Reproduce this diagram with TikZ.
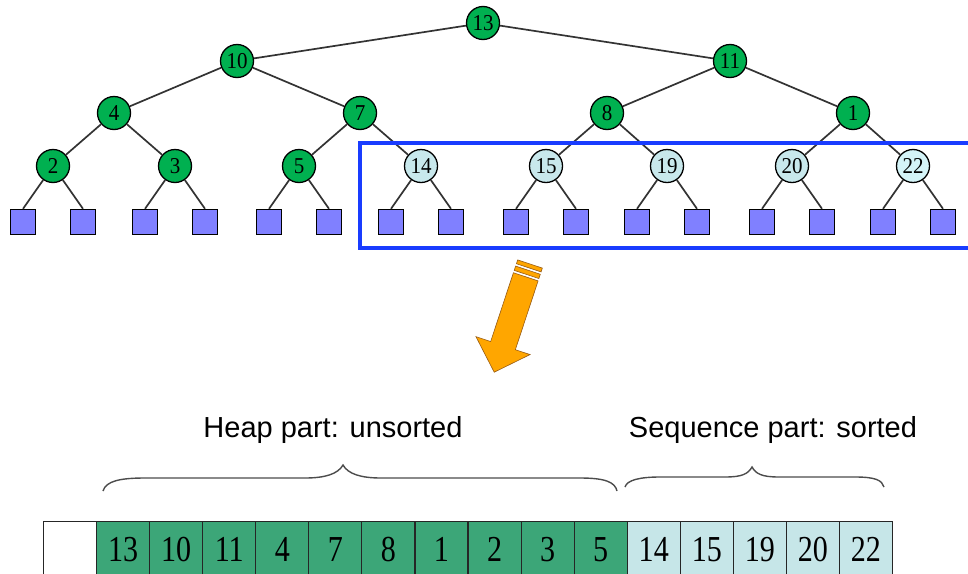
\documentclass[tikz,border=0pt]{standalone}
\usepackage{graphicx}
\usepackage{fontspec}
\setmainfont{Liberation Serif}
\newfontfamily\labfont{Liberation Sans}
\definecolor{ngreen}{RGB}{0,176,80}
\definecolor{nlblue}{RGB}{200,232,236}
\definecolor{leafblue}{RGB}{128,128,255}
\definecolor{agreen}{RGB}{60,166,120}
\definecolor{alblue}{RGB}{198,230,232}
\definecolor{frameblue}{RGB}{25,60,255}
\definecolor{arrorange}{RGB}{255,166,0}
\definecolor{arredge}{RGB}{150,90,20}
\newcommand\cnum[1]{\scalebox{0.97}[1.18]{#1}}
\newcommand\tnum[1]{\scalebox{1}[1.08]{#1}}
\tikzset{
  hnode/.style={circle, draw=black, line width=1.3pt, fill=ngreen, minimum size=33pt, inner sep=0pt, font=\fontsize{21}{21}\selectfont},
  snode/.style={hnode, fill=nlblue},
  leafbox/.style={rectangle, draw=black, line width=1.4pt, fill=leafblue, minimum size=25pt, inner sep=0pt},
  tedge/.style={draw=black!80, line width=1.7pt},
  cellbox/.style={rectangle, draw=black!85, line width=1.1pt, minimum width=53.06pt, minimum height=56pt, inner sep=0pt, anchor=north west, font=\fontsize{31}{31}\selectfont},
  lbl/.style={anchor=base, inner sep=0pt, font=\labfont\fontsize{29}{29}\selectfont},
  bracepath/.style={draw=black!70, line width=1.4pt},
  arrpart/.style={fill=arrorange, draw=arredge, line width=0.6pt, line join=miter},
}
\begin{document}
\begin{tikzpicture}[x=1pt,y=-1pt]
\useasboundingbox (0,0) rectangle (968,573);
\clip (0,0) rectangle (968,573);

% tree nodes
\node[hnode] (n13) at (483,23) {\tnum{13}};
\node[hnode] (n10) at (237,61) {\tnum{10}};
\node[hnode] (n11) at (730,61) {\tnum{11}};
\node[hnode] (n4) at (114,113) {\tnum{4}};
\node[hnode] (n7) at (360,113) {\tnum{7}};
\node[hnode] (n8) at (607,113) {\tnum{8}};
\node[hnode] (n1) at (853,113) {\tnum{1}};
\node[hnode] (n2) at (53,166) {\tnum{2}};
\node[hnode] (n3) at (175,166) {\tnum{3}};
\node[hnode] (n5) at (299,166) {\tnum{5}};
\node[snode] (n14) at (421,166) {\tnum{14}};
\node[snode] (n15) at (546,166) {\tnum{15}};
\node[snode] (n19) at (667,166) {\tnum{19}};
\node[snode] (n20) at (792,166) {\tnum{20}};
\node[snode, fill={rgb,255:red,212;green,244;blue,248}] (n22) at (913,166) {\tnum{22}};

\foreach \a/\b in {n13/n10, n13/n11, n10/n4, n10/n7, n11/n8, n11/n1,
                   n4/n2, n4/n3, n7/n5, n7/n14, n8/n15, n8/n19, n1/n20, n1/n22}
  \draw[tedge] (\a) -- (\b);

\foreach \p/\x in {n2/53, n3/175, n5/299, n14/421, n15/546, n19/667, n20/792, n22/913} {
  \node[leafbox] (\p a) at ({\x-30},222) {};
  \node[leafbox] (\p b) at ({\x+30},222) {};
  \draw[tedge] (\p) -- (\p a.north);
  \draw[tedge] (\p) -- (\p b.north);
}

% blue frame
\draw[frameblue, line width=4pt] (360,143) rectangle (980,248);

% orange arrow
\coordinate (atop) at (530,264);
\begin{scope}[shift={(atop)}, x={(0.949pt,-0.314pt)}, y={(-0.314pt,-0.949pt)}]
  \draw[arrpart] (-13,0) -- (13,0) -- (13,4) -- (-13,4) -- cycle;
  \draw[arrpart] (-13,6.5) -- (13,6.5) -- (13,11) -- (-13,11) -- cycle;
  \draw[arrpart]
    (-13,13.5) -- (13,13.5) -- (13,86) -- (28.5,86) -- (0,114) -- (-28.5,86) -- (-13,86) -- cycle;
\end{scope}

% labels
\node[lbl] (heaplbl) at (333,437) {Heap part: unsorted};
\node[lbl] (seqlbl) at (773,437) {Sequence part: sorted};

% braces
\draw[bracepath] (103,491) .. controls (106,481) and (120,478) .. (145,478) -- (305,478)
  .. controls (325,478) and (338,474) .. (343,465)
  .. controls (348,474) and (361,478) .. (381,478) -- (580,478)
  .. controls (605,478) and (615,482) .. (617,491);
\draw[bracepath] (625,487) .. controls (627,480) and (640,477) .. (660,477) -- (725,477)
  .. controls (742,477) and (748,474) .. (752,467)
  .. controls (756,474) and (762,477) .. (779,477) -- (855,477)
  .. controls (875,477) and (882,480) .. (884,487);

% array
\node[cellbox, fill=white] (c0) at (43,521) {};
\foreach \v [count=\i] in {13,10,11,4,7,8,1,2,3,5}
  \node[cellbox, fill=agreen] (c\i) at ({43+53.06*\i},521) {\cnum{\v}};
\foreach \v [count=\i from 11] in {14,15,19,20,22}
  \node[cellbox, fill=alblue] (c\i) at ({43+53.06*\i},521) {\cnum{\v}};
\end{tikzpicture}
\end{document}
